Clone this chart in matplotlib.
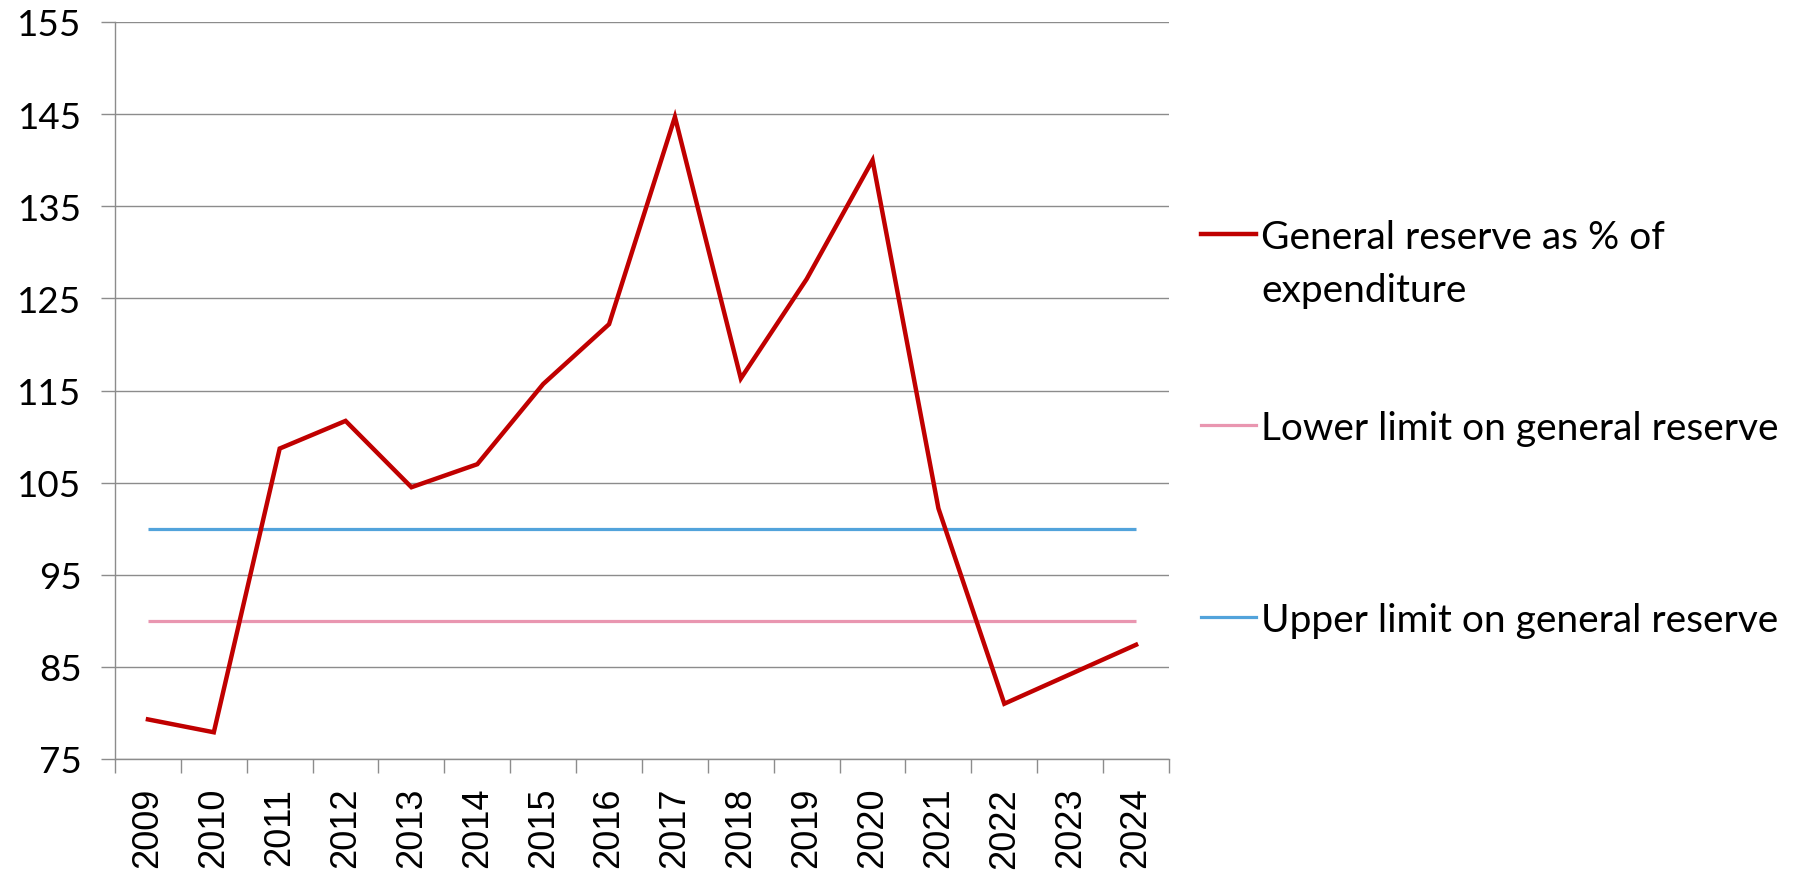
import numpy as np
import matplotlib
matplotlib.use("Agg")
import matplotlib.pyplot as plt
from matplotlib.lines import Line2D
from matplotlib.ticker import FixedLocator

plt.rcParams['font.family'] = ['Lato', 'DejaVu Sans']

years = ['2009', '2010', '2011', '2012', '2013', '2014', '2015', '2016',
         '2017', '2018', '2019', '2020', '2021', '2022', '2023', '2024']
reserve_pct = [79.3, 77.9, 108.7, 111.7, 104.5, 107.0, 115.7, 122.2,
               144.7, 116.3, 127.1, 140.0, 102.2, 81.0, 84.2, 87.4]
lower_limit = [90] * len(years)
upper_limit = [100] * len(years)

labels = ['General reserve as % of\nexpenditure',
          'Lower limit on general reserve',
          'Upper limit on general reserve']
colors = ['#C00000', '#E996B0', '#52A3DB']

W, H = 1806, 878
fig = plt.figure(figsize=(W / 100, H / 100), dpi=100)
ax = fig.add_axes([115 / W, 1 - 760 / H, (1169 - 115) / W, (760 - 23) / H])

x = np.arange(len(years))
ax.plot(x, upper_limit, color=colors[2], lw=2.3, zorder=3, solid_capstyle='butt')
ax.plot(x, lower_limit, color=colors[1], lw=2.3, zorder=3, solid_capstyle='butt')
ax.plot(x, reserve_pct, color=colors[0], lw=3.2, zorder=4, solid_joinstyle='miter')

ax.set_xlim(-0.5, len(years) - 0.5)
ax.set_ylim(75, 155)
ax.set_yticks(np.arange(75, 156, 10))
ax.yaxis.grid(True, color='#8c8c8c', lw=1.0)
ax.set_axisbelow(True)

ax.set_xticks(x)
ax.set_xticklabels(years, rotation=90, fontsize=26, family='Liberation Sans')
ax.xaxis.set_minor_locator(FixedLocator(np.arange(-0.5, len(years), 1.0)))
ax.tick_params(axis='x', which='major', length=0, pad=20)
ax.tick_params(axis='x', which='minor', length=10, width=1.0, color='#8c8c8c')
ax.tick_params(axis='y', length=10, width=1.0, color='#8c8c8c', pad=14, labelsize=26.5)

for s in ['top', 'right']:
    ax.spines[s].set_visible(False)
for s in ['left', 'bottom']:
    ax.spines[s].set_color('#8c8c8c')
    ax.spines[s].set_linewidth(1.0)

# legend entries, drawn by hand so the handle sits on the first text line
rows_y = [235, 426, 618]
for lab, col, yy in zip(labels, colors, rows_y):
    fy = 1 - yy / H
    # baseline of the last text line; one line step is about 53 px
    n_extra = lab.count('\n')
    fig.add_artist(Line2D([1201 / W, 1256 / W], [fy, fy], color=col,
                          lw=3.2 if col == colors[0] else 2.3,
                          transform=fig.transFigure))
    fig.text(1261 / W, fy - (14 + 53 * n_extra) / H, lab, fontsize=28,
             va='baseline', ha='left', linespacing=1.6,
             transform=fig.transFigure)

fig.savefig('out.png', dpi=100)
